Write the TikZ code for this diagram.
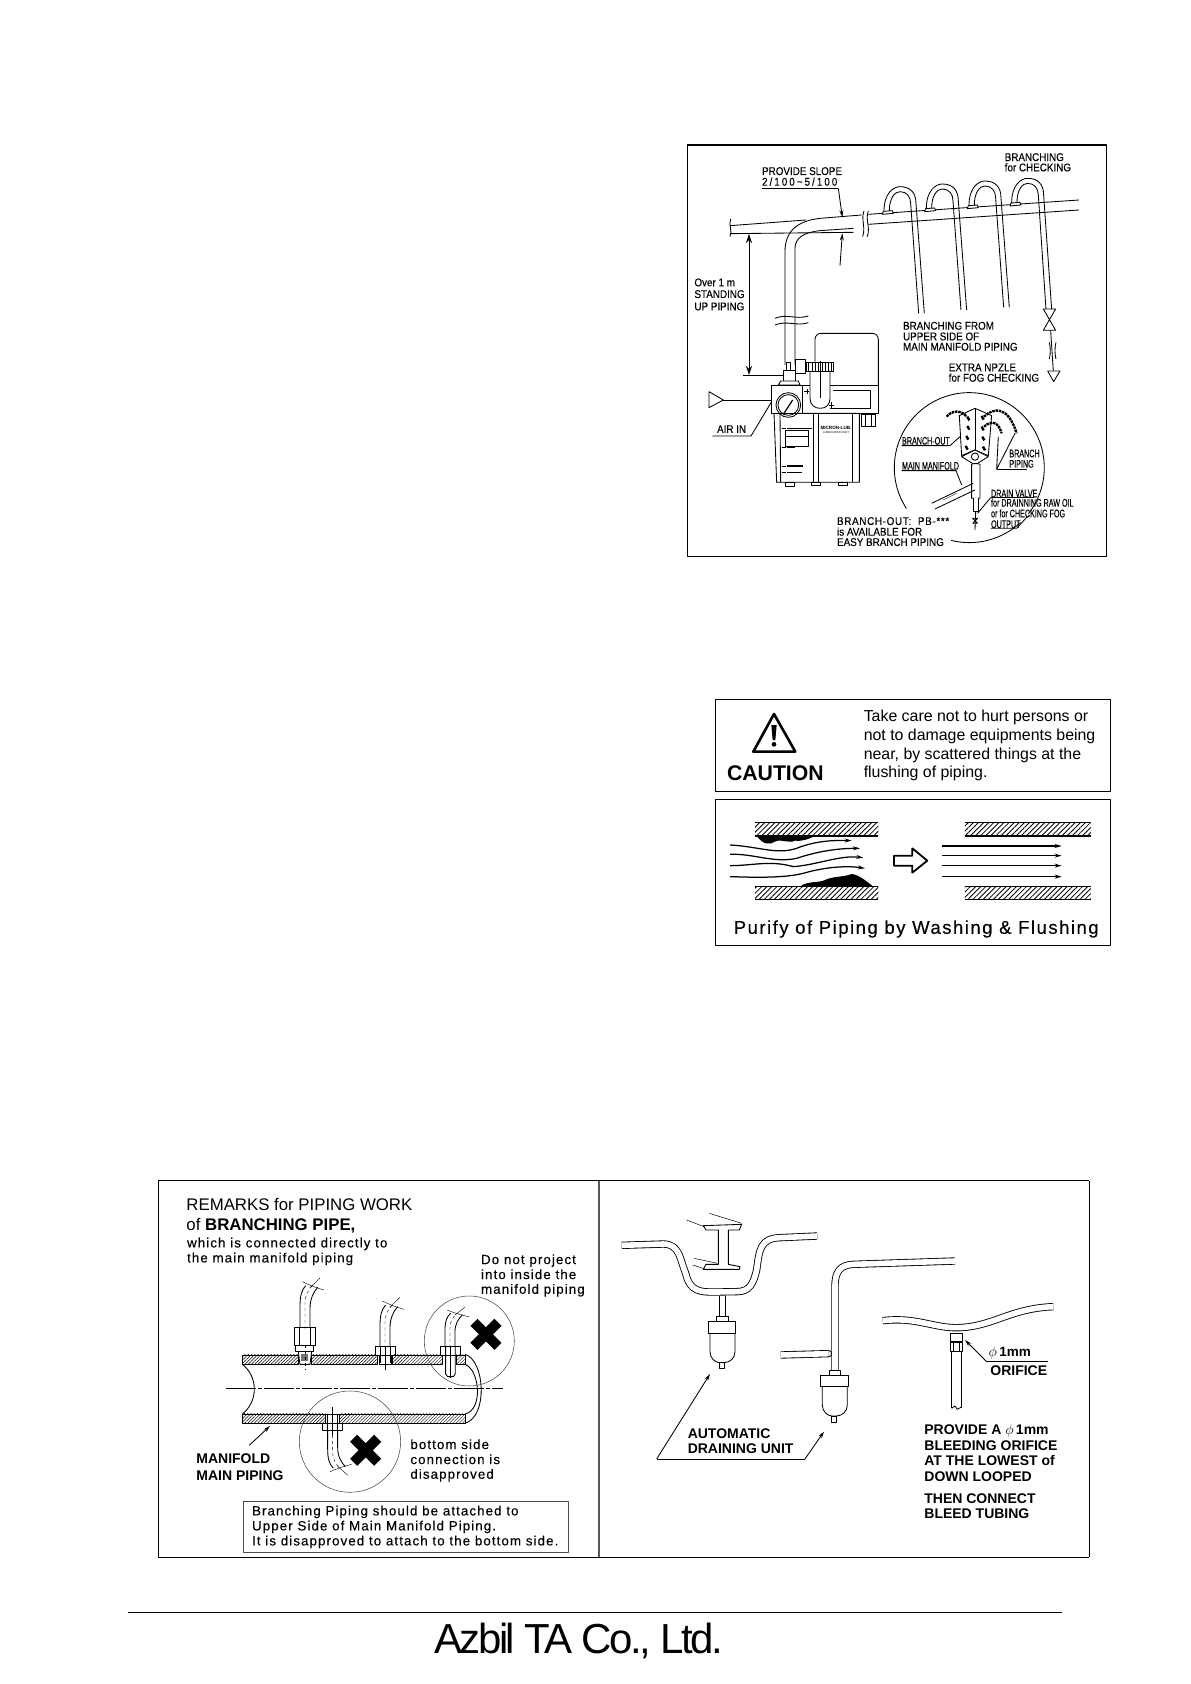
\documentclass[tikz,border=0pt]{standalone}
\usepackage{graphicx}
\usepackage{fontspec}
\setmainfont{Liberation Sans}
\newfontfamily\wideface[LetterSpace=8,FakeBold=.25]{Liberation Sans}
\newfontfamily\cadface[FakeStretch=.88,FakeBold=.15]{Liberation Sans}
\usetikzlibrary{patterns.meta,arrows.meta}
\newcommand{\txtsize}[1]{\fontsize{#1}{#1}\selectfont}
\tikzset{
  zoomed/.style 2 args={shift={(#1,#2)},x=.3333pt,y=-.3333pt},
  cad/.style={anchor=west,inner sep=0pt,text height=8pt,text depth=0pt,font=\cadface\txtsize{11.2}},
  cadthin/.style={anchor=west,inner sep=0pt,text height=8pt,text depth=0pt,font=\cadface\txtsize{11}},
  notetxt/.style={anchor=west,inner sep=0pt,text height=9.5pt,text depth=0pt,font=\wideface\txtsize{13.35}},
  boldtxt/.style={anchor=west,inner sep=0pt,text height=10pt,text depth=0pt,font=\bfseries\txtsize{14}},
  hatchfill/.style={pattern={Lines[angle=45,distance=3.6pt,line width=.85pt]}},
  hatchfine/.style={pattern={Lines[angle=45,distance=2.3pt,line width=.45pt]}},
  pipe/.style={draw=black,line width=.85pt,double=white,double distance=5.6pt},
  leader/.style={line width=.85pt},
  headed/.style={line width=.85pt,-{Stealth[length=7pt,width=4pt]}},
  flowline/.style={line width=1.25pt,-{Stealth[length=7pt,width=4pt]}},
  bigcross/.style={line width=10pt},
  thincircle/.style={draw=black!70,line width=.55pt}
}
\newcommand{\benttube}[3]{%
  \begin{scope}[shift={(#1,#2)},yscale=#3]
    \draw (-15,0)--(-15,-60) .. controls (-15,-95) and (-10,-112) .. (2,-125);
    \draw (15,0)--(15,-55) .. controls (15,-85) and (25,-105) .. (38,-120);
    \draw[dashed,line width=.4pt] (0,5)--(0,-70) .. controls (0,-95) and (8,-110) .. (22,-125);
    \draw[line width=.4pt] (-8,-137) .. controls (10,-128) and (30,-120) .. (57,-112);
    \draw[line width=.4pt] (14,-118)--(45,-148);
  \end{scope}}
\begin{document}
\begin{tikzpicture}[x=1pt,y=-1pt,line width=.85pt,line join=round]
\useasboundingbox (0,0) rectangle (1191,1684);
% upper right: standing up piping
\begin{scope}[zoomed={680}{135}]
\draw[line width=1.6pt] (22,30) rectangle (1280,1265);
\draw (150,272)--(378,255); \draw (150,296)--(520,292);
\draw (315,690)--(315,350) .. controls (315,290) and (350,258) .. (420,250)--(545,240);
\draw (345,690)--(345,340) .. controls (345,310) and (370,292) .. (420,287)--(520,280);
\draw (565,238)--(1197,195); \draw (565,268)--(1197,225);
\draw (152,252) .. controls (145,270) and (158,285) .. (150,305);
\draw (552,228) .. controls (542,255) and (558,275) .. (548,305);
\draw (565,228) .. controls (555,255) and (572,275) .. (562,305);
\draw (285,550) .. controls (320,535) and (350,555) .. (385,543);
\draw (285,570) .. controls (320,555) and (350,575) .. (385,563);
% branching loops
\foreach \dx/\dy/\ex/\ey in {0/0/733/535,127/-8/860/525,255/-17/988/517,383/-25/1115/522}{
  \draw[fill=white] ({607+\dx},{238+\dy})--({610+\dx},{229+\dy})--({637+\dx},{227+\dy})--({640+\dx},{235+\dy})--cycle;
  \draw ({612+\dx},{229+\dy}) .. controls ({612+\dx},{175+\dy}) and ({640+\dx},{155+\dy}) .. ({660+\dx},{155+\dy}) .. controls ({690+\dx},{155+\dy}) and ({708+\dx},{172+\dy}) .. ({708+\dx},{205+\dy})--(\ex,\ey);
  \draw ({628+\dx},{228+\dy}) .. controls ({628+\dx},{188+\dy}) and ({645+\dx},{170+\dy}) .. ({660+\dx},{170+\dy}) .. controls ({680+\dx},{170+\dy}) and ({692+\dx},{185+\dy}) .. ({692+\dx},{205+\dy})--({\ex-17},\ey);
}
\draw (1090,522)--(1127,522)--(1090,586)--(1127,586)--cycle;
\draw (1112,586)--(1120,708);
\draw (1108,622) .. controls (1112,640) and (1112,655) .. (1108,672);
\draw (1128,622) .. controls (1124,640) and (1124,655) .. (1128,672);
\draw (1103,708)--(1140,708)--(1121,740)--cycle;
% dimension and leaders
\draw[<->,>={Stealth[length=9pt,width=6pt]}] (207,297)--(207,720);
\draw (190,720)--(310,720);
\draw[leader] (245,160)--(475,160);
\draw[headed] (475,160)--(487,247);
\draw[headed] (480,392)--(487,295);
\draw (87,770)--(87,818)--(130,795)--cycle;
\draw (130,795)--(275,795);
\draw[leader] (97,903)--(213,903)--(275,800);
\node[cad] (slope) at (245,108) {PROVIDE SLOPE};
\node[cad] (slopeval) at (245,140) {\addfontfeature{LetterSpace=18}2/100\textasciitilde 5/100};
\node[cad] (checka) at (973,66) {BRANCHING};
\node[cad] (checkb) at (973,97) {for CHECKING};
\node[cad] (overa) at (42,442) {Over 1 m};
\node[cad] (overb) at (42,477) {STANDING};
\node[cad] (overc) at (42,514) {UP PIPING};
\node[cad] (uppera) at (668,572) {BRANCHING FROM};
\node[cad] (upperb) at (668,604) {UPPER SIDE OF};
\node[cad] (upperc) at (668,635) {MAIN MANIFOLD PIPING};
\node[cad] (extraa) at (805,697) {EXTRA NPZLE};
\node[cad] (extrab) at (805,728) {for FOG CHECKING};
\node[cad] (airin) at (110,882) {AIR IN};
\node[cad] (pba) at (470,1158) {\addfontfeature{LetterSpace=6}BRANCH-OUT:\ \ PB-***};
\node[cad] (pbb) at (470,1190) {is AVAILABLE FOR};
\node[cad] (pbc) at (470,1221) {EASY BRANCH PIPING};
% inset circle
\draw (868,998) ++(147:225) arc[start angle=147,end angle=398,radius=225];
\draw (868,998) ++(47:225) arc[start angle=47,end angle=104,radius=225];
\draw[fill=white] (885,820)--(838,842)--(845,962)--(885,945)--(925,962)--(935,842)--cycle;
\draw (885,820)--(885,945);
\draw[fill=white] (845,965)--(885,945)--(925,965)--(885,990)--cycle;
\draw (885,965) circle[radius=11];
\foreach \bx/\by in {865/850,865/878,862/908,860/938,908/848,908/880,910/910,912/940}
  \draw[line width=2.4pt] ({\bx-3},{\by-5})--({\bx+3},{\by+6});
\foreach \pa in {{(800,845) .. controls (815,825) and (845,825) .. (860,845)},{(912,845) .. controls (945,815) and (985,815) .. (1010,895)},{(912,875) .. controls (935,855) and (955,860) .. (965,895)}}
  \draw[line width=2.4pt,dash pattern=on 2.5pt off .8pt] \pa;
\draw[fill=white] (875,988)--(875,1090)--(900,1090)--(900,988) .. controls (895,985) and (880,985) .. (875,988);
\draw[fill=white] (880,1090)--(880,1130)--(895,1130)--(895,1090);
\draw (887,1130)--(885,1185);
\draw (878,1150)--(893,1150)--(878,1165)--(893,1165)--cycle;
\draw (755,1105)--(880,1045); \draw (765,1122)--(885,1065);
\draw[line width=.4pt] (790,1095)--(830,1075);
\draw[leader] (665,932)--(810,932)--(840,905);
\draw[leader] (665,1007)--(828,1007)--(845,1050);
\draw[leader] (950,1003)--(1040,1003);
\draw[leader] (955,905)--(950,1003)--(1005,895);
\draw[leader] (932,1088)--(1062,1088);
\draw[leader] (932,1088)--(893,1135);
\draw[leader] (932,1180)--(1010,1180)--(1042,1145);
\node[cadthin] (branchout) at (665,917) {\scalebox{.74}[1]{BRANCH-OUT}};
\node[cadthin] (mainmani) at (665,992) {\scalebox{.74}[1]{MAIN MANIFOLD}};
\node[cadthin] (brancha) at (987,955) {\scalebox{.74}[1]{BRANCH}};
\node[cadthin] (branchb) at (987,986) {\scalebox{.74}[1]{PIPING}};
\node[cadthin] (draina) at (932,1075) {\scalebox{.74}[1]{DRAIN VALVE}};
\node[cadthin] (drainb) at (932,1103) {\scalebox{.74}[1]{for DRAINNING RAW OIL}};
\node[cadthin] (drainc) at (932,1135) {\scalebox{.74}[1]{or for CHECKING FOG}};
\node[cadthin] (draind) at (932,1167) {\scalebox{.74}[1]{OUTPUT}};
\end{scope}
% lubricator unit
\begin{scope}[zoomed={750}{320}]
\draw[rounded corners=6pt] (195,195)--(195,40)--(385,40)--(385,195);
\draw[fill=white] (135,118) rectangle (165,160);
\draw[fill=white] (158,195)--(385,195)--(385,280)--(158,280)--cycle;
\draw (250,210)--(360,210)--(360,265)--(240,265);
\draw[fill=white] (72,280)--(328,280)--(328,487)--(80,487)--cycle;
\draw (90,280)--(92,487); \draw (190,280)--(190,487); \draw (205,280)--(205,487); \draw (308,280)--(308,487);
\draw[fill=white] (105,487) rectangle (133,500);
\draw[fill=white] (185,487) rectangle (212,495);
\draw[fill=white] (265,487) rectangle (292,497);
\draw[fill=white] (335,282) rectangle (375,318);
\draw (345,282)--(345,318); \draw (365,282)--(365,318);
\draw[fill=white] (180,155)--(180,235) .. controls (180,255) and (195,265) .. (210,265) .. controls (228,265) and (240,255) .. (240,235)--(240,155);
\draw[fill=white] (168,127) rectangle (250,155);
\foreach \rx in {176,186,196,206,216,226,236,244} \draw (\rx,127)--(\rx,155);
\draw[line width=.4pt] (210,122)--(210,235);
\draw (170,215) ++(-8,0)--++(16,0) (172,207)--(172,223);
\draw (245,255) ++(-8,0)--++(16,0) (245,247)--(245,263);
\draw[fill=white] (110,128) rectangle (122,150);
\draw[fill=white] (100,150) rectangle (135,185);
\draw[fill=white] (85,195)--(92,183)--(145,183)--(150,195)--cycle;
\draw[fill=white] (65,195) rectangle (158,280);
\draw (115,255) circle[radius=37]; \draw (115,255) circle[radius=31];
\draw[line width=1.2pt] (100,283)--(128,240);
\draw (105,330) rectangle (175,378);
\draw[line width=1pt] (107,350)--(173,350);
\foreach \ly/\lx in {325/185,382/135,438/160,458/155}{
  \draw (95,\ly)--(108,\ly);
  \draw[line width=1.6pt] (110,\ly)--(\lx,\ly);
}
\node[inner sep=0pt,font=\bfseries\txtsize{4.6}] (micron) at (258,325) {MICRON-LUB.};
\node[inner sep=0pt,font=\txtsize{2.8}] (lubunit) at (258,339) {LUBRICATION UNIT};
\end{scope}
% caution panel
\begin{scope}[zoomed={710}{690}]
\draw[line width=.9pt] (17,28) rectangle (1200,305);
\draw[line width=.9pt] (17,327) rectangle (1200,765);
\draw[line width=2.6pt] (192,72)--(130,185)--(256,185)--cycle;
\fill (184,105)--(200,105)--(196,150)--(188,150)--cycle;
\fill (192,163) circle[radius=7];
\node[anchor=west,inner sep=0pt,text height=15pt,text depth=0pt,font=\bfseries\txtsize{21.2}] (caution) at (50,250) {CAUTION};
\node[anchor=west,inner sep=0pt,font=\txtsize{15.9}] (carea) at (460,82) {Take care not to hurt persons or};
\node[anchor=west,inner sep=0pt,font=\txtsize{15.9}] (careb) at (460,138) {not to damage equipments being};
\node[anchor=west,inner sep=0pt,font=\txtsize{15.9}] (carec) at (460,195) {near, by scattered things at the};
\node[anchor=west,inner sep=0pt,font=\txtsize{15.9}] (cared) at (460,250) {flushing of piping.};
% dirty and clean pipe
\foreach \ax/\bx in {135/505,765/1143}{
  \fill[hatchfill] (\ax,399) rectangle (\bx,438);
  \fill[hatchfill] (\ax,590) rectangle (\bx,628);
  \draw[line width=1.1pt] (\ax,398)--(\bx,398) (\ax,438)--(\bx,438) (\ax,590)--(\bx,590) (\ax,628)--(\bx,628);
}
\fill (140,438) .. controls (160,465) and (180,465) .. (195,455) .. controls (215,445) and (235,462) .. (255,452) .. controls (280,455) and (300,445) .. (315,438)--cycle;
\fill (270,590) .. controls (290,572) and (325,580) .. (345,570) .. controls (370,558) and (400,562) .. (425,552) .. controls (450,555) and (470,575) .. (490,590)--cycle;
\draw[flowline] (60,465) .. controls (150,470) and (200,495) .. (260,475) .. controls (310,455) and (360,450) .. (425,452);
\draw[flowline] (60,493) .. controls (130,490) and (190,520) .. (260,505) .. controls (320,485) and (380,475) .. (450,475);
\draw[flowline] (60,527) .. controls (130,527) and (180,510) .. (250,530) .. controls (320,525) and (390,495) .. (460,503);
\draw[flowline] (60,560) .. controls (130,562) and (220,565) .. (280,550) .. controls (330,535) and (400,525) .. (465,535);
\foreach \fy in {468,497,527,560} \draw[flowline] (697,\fy)--(1055,\fy);
\draw[line width=1.8pt] (552,497)--(607,497)--(607,475)--(652,512)--(607,548)--(607,527)--(552,527)--cycle;
\node[anchor=west,inner sep=0pt,text height=13pt,text depth=0pt,font=\wideface\txtsize{18.55}] (purify) at (70,712) {Purify of Piping by Washing \& Flushing};
\end{scope}
% remarks panel
\begin{scope}[zoomed={150}{1170}]
\draw[line width=.9pt] (25,32) rectangle (1349,1161);
\draw[line width=1.4pt,black!65] (1347,32)--(1347,1161);
\foreach \ax/\bx in {277/445,485/683,727/878,918/945}
  \draw[hatchfine] (\ax,555) rectangle (\bx,583);
\foreach \ax/\bx in {277/527,568/945}
  \draw[hatchfine] (\ax,732) rectangle (\bx,760);
\draw (277,583) .. controls (325,620) and (325,695) .. (277,732);
\draw (945,553) .. controls (1005,570) and (1015,740) .. (945,760);
\draw (945,583) .. controls (990,600) and (1000,720) .. (945,732);
\draw[line width=.4pt,dash pattern=on 30pt off 2pt on 4pt off 2pt] (228,656)--(1060,656);
% fitting on the upper wall
\benttube{465}{472}{1}
\draw (433,472) rectangle (495,525); \draw (447,472)--(447,525) (481,472)--(481,525);
\draw (437,525)--(490,525)--(490,545)--(437,545)--cycle;
\draw (445,545)--(450,583)--(480,583)--(485,545);
\fill[black!55] (452,552) rectangle (475,573);
\draw[dashed,line width=.4pt] (465,525)--(465,598);
% stubs on the upper wall
\benttube{705}{530}{1}
\draw (675,555)--(675,530)--(735,530)--(735,555)--cycle;
\draw (687,555)--(687,583)--(725,583)--(725,555);
\draw (690,530)--(690,578); \draw (720,530)--(720,578);
\draw[line width=.4pt] (705,530)--(705,600);
\benttube{900}{530}{.8}
\draw (870,555)--(870,530)--(930,530)--(930,555)--cycle;
\draw (887,530)--(887,612)--(893,620)--(910,620)--(916,612)--(916,530);
\draw[line width=.4pt] (900,530)--(900,625);
% stub on the lower wall
\benttube{548}{782}{-.9}
\draw (527,732)--(527,760)--(568,760)--(568,732)--cycle;
\draw (518,760) rectangle (578,782);
\draw (533,732)--(533,782); \draw (563,732)--(563,782);
\draw[line width=.4pt] (548,712)--(548,795);
\draw[thincircle] (958,513) circle[radius=135];
\draw[thincircle] (600,815) circle[radius=152];
\draw[bigcross] (972,457)--(1044,529) (1044,457)--(972,529);
\draw[bigcross] (611,805)--(683,877) (683,805)--(611,877);
\draw[headed] (298,826)--(360,768);
\draw[thincircle,line width=.7pt] (280,995) rectangle (1255,1147);
\node[anchor=west,inner sep=0pt,text height=12pt,text depth=0pt,font=\txtsize{16.8}] (remarka) at (108,103) {REMARKS for PIPING WORK};
\node[anchor=west,inner sep=0pt,text height=12pt,text depth=0pt,font=\txtsize{16.8}] (remarkb) at (108,163) {of \textbf{BRANCHING PIPE,}};
\node[notetxt] (whicha) at (110,218) {which is connected directly to};
\node[notetxt] (whichb) at (110,263) {the main manifold piping};
\node[notetxt] (projecta) at (992,268) {Do not project};
\node[notetxt] (projectb) at (992,313) {into inside the};
\node[notetxt] (projectc) at (992,357) {manifold piping};
\node[notetxt] (bottoma) at (780,823) {bottom side};
\node[notetxt] (bottomb) at (780,868) {connection is};
\node[notetxt] (bottomc) at (780,912) {disapproved};
\node[notetxt] (notea) at (305,1022) {Branching Piping should be attached to};
\node[notetxt] (noteb) at (305,1067) {Upper Side of Main Manifold Piping.};
\node[notetxt] (notec) at (305,1112) {It is disapproved to attach to the bottom side.};
\node[boldtxt] (manifold) at (138,866) {MANIFOLD};
\node[boldtxt] (mainpipe) at (138,918) {MAIN PIPING};
\end{scope}
% draining side of the panel
\begin{scope}[zoomed={600}{1170}]
\draw[line width=.9pt] (1468,32)--(1468,1161);
\draw[line width=.9pt] (0,32)--(1468,32) (0,1161)--(1468,1161);
\draw[line width=.5pt] (328,130)--(425,160) (260,150)--(312,170) (283,265)--(352,280) (278,285)--(312,296);
\draw[hatchfine,fill=white] (310,167)--(425,163)--(418,180)--(385,180)--(385,283)--(420,290)--(418,298)--(310,298)--(318,283)--(355,283)--(355,180)--(318,180)--cycle;
\draw[pipe] (65,226)--(190,222) .. controls (240,222) and (240,270) .. (257,310) .. controls (270,365) and (300,367) .. (350,366)--(410,365) .. controls (450,365) and (460,340) .. (470,300) .. controls (478,240) and (480,205) .. (540,203)--(652,198);
\draw[pipe] (368,377)--(368,440);
\draw[pipe] (1065,273)--(760,283) .. controls (720,285) and (705,305) .. (705,350)--(705,600);
\draw[pipe] (542,555)--(685,551);
\draw (685,541) .. controls (698,541) and (698,560) .. (685,561);
\foreach \ux/\uy in {0/0,337/160}{
\begin{scope}[shift={(\ux,\uy)}]
  \draw (350,440) rectangle (385,455);
  \draw (325,455) rectangle (407,490);
  \draw (330,490)--(330,545) .. controls (330,565) and (345,577) .. (358,578)--(373,578) .. controls (390,577) and (405,565) .. (405,545)--(405,490);
  \draw (358,578) rectangle (373,596);
\end{scope}}
\draw[pipe] (848,452) .. controls (950,440) and (1000,475) .. (1075,473) .. controls (1180,470) and (1230,415) .. (1360,410);
\draw (1052,490) rectangle (1087,513);
\draw (1050,517) rectangle (1088,545);
\draw (1060,517)--(1060,545) (1078,517)--(1078,545);
\draw (1055,545)--(1055,715) (1083,545)--(1083,715);
\draw (1055,715)--(1065,708)--(1072,718)--(1083,712);
\draw[headed] (1160,575)--(1095,510);
\draw[leader] (1345,575)--(1160,575);
\draw[leader] (615,867)--(170,867);
\draw[headed] (170,867)--(330,612);
\draw[headed] (615,867)--(672,785);
\node[anchor=west,inner sep=0pt,font=\bfseries\txtsize{13.5}] (phia) at (1165,550) {$\phi$\,1mm};
\node[boldtxt] (orifice) at (1170,603) {ORIFICE};
\node[boldtxt] (autoa) at (262,792) {AUTOMATIC};
\node[boldtxt] (autob) at (262,836) {DRAINING UNIT};
\node[boldtxt] (bleeda) at (972,780) {PROVIDE A $\phi$\,1mm};
\node[boldtxt] (bleedb) at (972,826) {BLEEDING ORIFICE};
\node[boldtxt] (bleedc) at (972,873) {AT THE LOWEST of};
\node[boldtxt] (bleedd) at (972,921) {DOWN LOOPED};
\node[boldtxt] (bleede) at (972,985) {THEN CONNECT};
\node[boldtxt] (bleedf) at (972,1032) {BLEED TUBING};
\end{scope}
% footer
\draw[line width=1.6pt] (128,1612.5)--(1062,1612.5);
\node[anchor=center,inner sep=0pt,text height=30pt,text depth=0pt,font=\txtsize{42}\addfontfeature{LetterSpace=-6}] (azbil) at (578.5,1638) {Azbil TA Co., Ltd.};
\end{tikzpicture}
\end{document}
